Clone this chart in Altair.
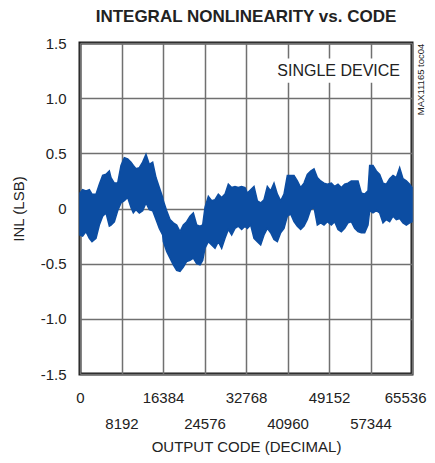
import altair as alt
import pandas as pd

# Output codes (x) and the INL band envelope (LSB)
codes = [0, 526, 1184, 1842, 2369, 3158, 3816, 4474, 5132, 5790, 6119, 6777, 7435, 8093,
         8751, 9409, 10067, 10528, 11054, 11712, 12370, 13028, 13686, 14344, 15002, 15660,
         16318, 16450, 17108, 17766, 18424, 19082, 19740, 20398, 21056, 21714, 22372, 23030,
         23688, 24214, 24675, 25333, 25991, 26649, 27307, 27965, 28623, 29281, 29939, 30597,
         31255, 31913, 32571, 33032, 33690, 34348, 35006, 35664, 36322, 36980, 37638, 38296,
         38954, 39612, 40270, 40928, 41586, 42244, 42902, 43560, 44218, 44876, 45534, 46192,
         46850, 47508, 48166, 48824, 49613, 50271, 50929, 51587, 52245, 52903, 53561, 54219,
         54877, 55535, 56193, 56851, 57180, 57838, 58496, 59154, 59812, 60470, 61128, 61786,
         62444, 63102, 63760, 64418, 65076, 65536]
inl_hi = [0.14, 0.17, 0.16, 0.17, 0.13, 0.13, 0.22, 0.30, 0.31, 0.34, 0.28, 0.23, 0.23, 0.39,
          0.46, 0.45, 0.42, 0.39, 0.36, 0.37, 0.42, 0.49, 0.40, 0.42, 0.28, 0.19,
          0.10, 0.07, -0.02, -0.10, -0.13, -0.15, -0.21, -0.15, -0.12, -0.07, -0.04, -0.15,
          -0.16, -0.15, 0.01, 0.11, 0.07, 0.08, 0.13, 0.10, 0.13, 0.22, 0.19, 0.20,
          0.19, 0.20, 0.19, 0.14, 0.17, 0.20, 0.07, 0.05, 0.08, 0.20, 0.16, 0.23,
          0.13, 0.07, 0.13, 0.30, 0.30, 0.30, 0.25, 0.19, 0.23, 0.31, 0.34, 0.36,
          0.28, 0.25, 0.23, 0.22, 0.23, 0.20, 0.22, 0.19, 0.22, 0.23, 0.25, 0.25,
          0.25, 0.14, 0.13, 0.16, 0.39, 0.39, 0.34, 0.31, 0.23, 0.22, 0.27, 0.30,
          0.28, 0.37, 0.27, 0.25, 0.22, 0.19]
inl_lo = [-0.24, -0.25, -0.21, -0.27, -0.30, -0.27, -0.15, -0.07, -0.04, -0.16, -0.15, -0.12, -0.02, 0.05,
          0.07, 0.10, 0.01, -0.04, -0.01, -0.04, -0.02, 0.05, -0.01, -0.02, -0.10, -0.18,
          -0.24, -0.30, -0.39, -0.45, -0.51, -0.56, -0.57, -0.53, -0.48, -0.47, -0.45, -0.50,
          -0.51, -0.47, -0.36, -0.30, -0.33, -0.36, -0.30, -0.36, -0.27, -0.19, -0.24, -0.18,
          -0.16, -0.19, -0.16, -0.18, -0.15, -0.27, -0.30, -0.33, -0.24, -0.18, -0.22, -0.28,
          -0.30, -0.22, -0.18, -0.07, -0.05, -0.12, -0.16, -0.19, -0.16, -0.10, -0.01, 0.01,
          -0.15, -0.13, -0.15, -0.12, -0.15, -0.12, -0.19, -0.21, -0.18, -0.13, -0.12, -0.18,
          -0.21, -0.22, -0.22, -0.15, -0.02, -0.04, -0.02, -0.04, -0.13, -0.10, -0.12, -0.07,
          -0.10, -0.09, -0.13, -0.15, -0.13, -0.12]

x_ticks = [0, 8192, 16384, 24576, 32768, 40960, 49152, 57344, 65536]
y_ticks = [-1.5, -1.0, -0.5, 0.0, 0.5, 1.0, 1.5]

BLUE = "#0C4DA2"
FONT = "Liberation Sans"

df = pd.DataFrame({"code": codes, "hi": inl_hi, "lo": inl_lo})

xscale = alt.Scale(domain=[0, 65536], nice=False, zero=False)
yscale = alt.Scale(domain=[-1.5, 1.5], nice=False)

xaxis = alt.Axis(values=x_ticks, format="d", title="OUTPUT CODE (DECIMAL)",
                 labelExpr="datum.value % 16384 == 0 ? datum.label : ['', datum.label]",
                 labelAlign={"condition": {"test": "datum.value == 65536", "value": "right"},
                             "value": "center"},
                 labelOffset={"condition": {"test": "datum.value == 65536", "value": 14},
                              "value": 0},
                 labelLineHeight=26, labelBaseline="top", labelFlush=False, labelOverlap=False,
                 ticks=False, labelPadding=16, titlePadding=8, grid=True,
                 labelFont=FONT, labelFontSize=15, titleFont=FONT, titleFontSize=15,
                 titleFontWeight="normal", labelColor="#222", titleColor="#222", domain=False)
yaxis = alt.Axis(values=y_ticks, title="INL (LSB)",
                 labelExpr="datum.value == 0 ? '0' : (datum.value < 0 ? '-' : '') + format(abs(datum.value), '.1f')",
                 ticks=False, labelPadding=14, titlePadding=14, grid=True,
                 labelFont=FONT, labelFontSize=15, titleFont=FONT, titleFontSize=15,
                 titleFontWeight="normal", labelColor="#222", titleColor="#222", domain=False)

band = alt.Chart(df).mark_area(color=BLUE, opacity=1, stroke=BLUE, strokeWidth=1.5).encode(
    x=alt.X("code:Q", scale=xscale, axis=xaxis),
    y=alt.Y("lo:Q", scale=yscale, axis=yaxis),
    y2="hi:Q",
)

box_df = pd.DataFrame({"x1": [39900], "x2": [64000], "y1": [1.14], "y2": [1.36]})
box = alt.Chart(box_df).mark_rect(color="white").encode(
    x=alt.X("x1:Q", scale=xscale), x2="x2:Q",
    y=alt.Y("y1:Q", scale=yscale), y2="y2:Q")

lab_df = pd.DataFrame({"x": [63168], "y": [1.2], "t": ["SINGLE DEVICE"]})
label = alt.Chart(lab_df).mark_text(align="right", baseline="alphabetic", font=FONT,
                                    fontSize=16, color="#222").encode(
    x=alt.X("x:Q", scale=xscale), y=alt.Y("y:Q", scale=yscale), text="t:N")

id_df = pd.DataFrame({"x": [67300], "y": [1.17], "t": ["MAX11165 toc04"]})
ident = alt.Chart(id_df).mark_text(angle=270, align="center", baseline="middle", font=FONT,
                                   fontSize=9.5, color="#222").encode(
    x=alt.X("x:Q", scale=xscale), y=alt.Y("y:Q", scale=yscale), text="t:N")

chart = alt.layer(box, band, label, ident).properties(
    width=332, height=331,
    autosize=alt.AutoSizeParams(type="none"),
    padding={"left": 72, "top": 35, "right": 15, "bottom": 85},
    title=alt.TitleParams("INTEGRAL NONLINEARITY vs. CODE", font=FONT,
                          fontSize=17, fontWeight="bold", anchor="middle", offset=10,
                          color="#222"),
).configure_view(stroke="#1a1a1a", strokeWidth=3).configure_axis(
    gridColor="#707070", gridWidth=1.5, gridOpacity=1)

chart.save("out.html", embed_options={"renderer": "svg", "actions": False})
